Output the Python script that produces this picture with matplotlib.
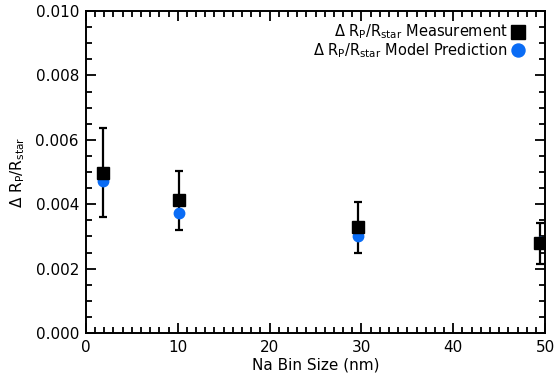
import matplotlib
matplotlib.use('Agg')
import matplotlib.pyplot as plt
from matplotlib.ticker import MultipleLocator

plt.rcParams['font.family'] = 'DejaVu Sans'
plt.rcParams['mathtext.default'] = 'regular'

# values
bin_size = [1.9, 10.1, 29.6, 49.4]
measured = [0.00497, 0.00413, 0.00329, 0.00280]
err_low = [0.00360, 0.00320, 0.00249, 0.00216]
err_high = [0.00637, 0.00504, 0.00408, 0.00341]
predicted = [0.00472, 0.00374, 0.00301, 0.00283]

yerr = [[m - lo for m, lo in zip(measured, err_low)],
        [hi - m for m, hi in zip(measured, err_high)]]

fig = plt.figure(figsize=(5.54, 3.82), dpi=100)
ax = fig.add_axes([0.155, 0.128, 0.829, 0.843])

ax.errorbar(bin_size, measured, yerr=yerr, fmt='none', ecolor='black',
            elinewidth=1.6, capsize=3, capthick=1.6, zorder=1)
ax.plot(bin_size, predicted, 'o', color='#0a6cf5', markersize=7.5,
        label=r'$\Delta$ R$_P$/R$_{star}$ Model Prediction', zorder=2)
ax.plot(bin_size, measured, 's', color='black', markersize=8,
        label=r'$\Delta$ R$_P$/R$_{star}$ Measurement', zorder=3)

ax.set_xlim(0, 50)
ax.set_ylim(0, 0.010)
ax.xaxis.set_major_locator(MultipleLocator(10))
ax.xaxis.set_minor_locator(MultipleLocator(1))
ax.yaxis.set_major_locator(MultipleLocator(0.002))
ax.yaxis.set_minor_locator(MultipleLocator(0.0005))
ax.yaxis.set_major_formatter(plt.FormatStrFormatter('%.3f'))
ax.tick_params(which='both', direction='in', top=True, right=True, width=1.3,
               labelsize=11)
ax.tick_params(which='major', length=7, pad=5)
ax.tick_params(which='minor', length=4)
for s in ax.spines.values():
    s.set_linewidth(1.4)

ax.set_xlabel('Na Bin Size (nm)', fontsize=11, labelpad=2)
ax.set_ylabel(r'$\Delta$ R$_P$/R$_{star}$', fontsize=11, labelpad=6)

handles, labels = ax.get_legend_handles_labels()
ax.legend(handles[::-1], labels[::-1], loc='upper right', frameon=False,
          bbox_to_anchor=(0.98, 1.0),
          markerfirst=False, fontsize=10.5, handlelength=0.9, handletextpad=0.25,
          labelspacing=0.0, borderaxespad=0.4, markerscale=1.25)

fig.savefig('out.png', dpi=100)
